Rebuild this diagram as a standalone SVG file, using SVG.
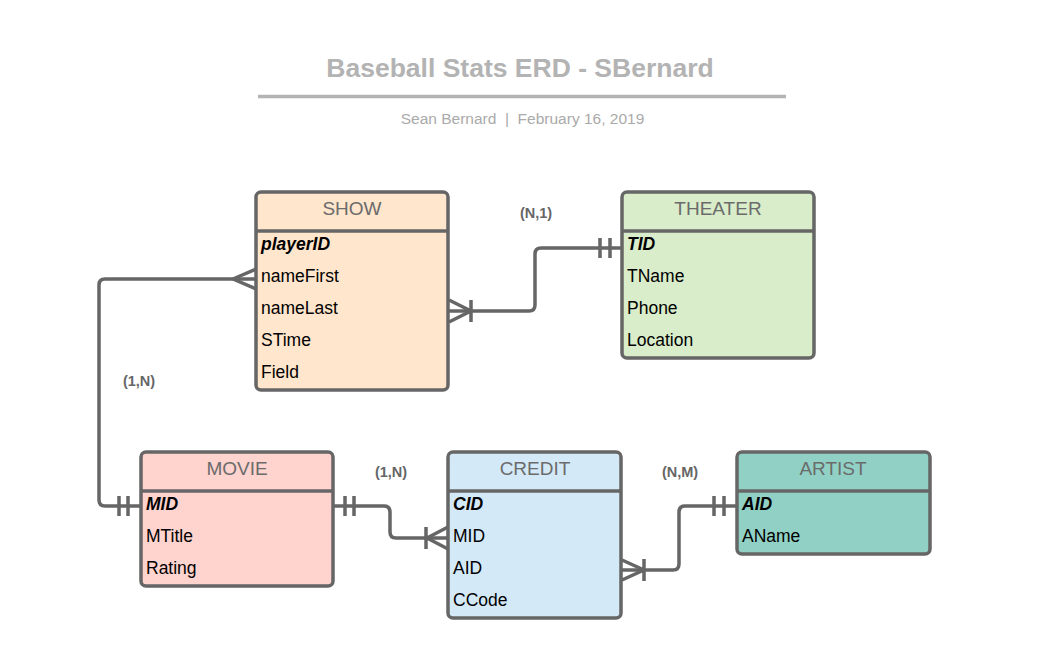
<svg xmlns="http://www.w3.org/2000/svg" width="1040" height="659" viewBox="0 0 1040 659">
<style>
.box{stroke:#666666;stroke-width:3.5}
.div{stroke:#666666;stroke-width:3.5}
.hdr{font-family:"Liberation Sans",Arial,sans-serif;font-size:19px;fill:#6b6b6b;text-anchor:middle}
.row{font-family:"Liberation Sans",Arial,sans-serif;font-size:17.5px;fill:#000000}
.pk{font-weight:bold;font-style:italic}
.lbl{font-family:"Liberation Sans",Arial,sans-serif;font-size:14.5px;font-weight:bold;fill:#666666;text-anchor:middle}
.con{fill:none;stroke:#666666;stroke-width:3.5;stroke-linecap:butt;stroke-linejoin:round}
</style>
<rect width="1040" height="659" fill="#ffffff"/>
<g id="title">
<text x="520" y="77" font-family="Liberation Sans,Arial,sans-serif" font-size="26.5" font-weight="bold" fill="#b3b3b3" text-anchor="middle">Baseball Stats ERD - SBernard</text>
<line x1="258" y1="96.5" x2="786" y2="96.5" stroke="#b3b3b3" stroke-width="3.5"/>
<text x="522.5" y="124" font-family="Liberation Sans,Arial,sans-serif" font-size="15.5" fill="#aaaaaa" text-anchor="middle" xml:space="preserve">Sean Bernard  |  February 16, 2019</text>
</g>
<g id="connectors">
<path class="con" d="M256 279 H105 Q99 279 99 285 V500 Q99 506 105 506 H141"/>
<path class="con" d="M233 279 L256 269 M233 279 L256 289"/>
<path class="con" d="M119 496 V516 M128 496 V516"/>
<path class="con" d="M333 506 H384 Q390 506 390 512 V532 Q390 538 396 538 H448"/>
<path class="con" d="M345 496 V516 M354 496 V516"/>
<path class="con" d="M426 527 V549 M427 538 L448 527 M427 538 L448 549"/>
<path class="con" d="M448 311 H529 Q535 311 535 305 V254 Q535 248 541 248 H622"/>
<path class="con" d="M471 300 V322 M471 311 L449 300 M471 311 L449 322"/>
<path class="con" d="M600 238 V258 M610 238 V258"/>
<path class="con" d="M621 570 H673 Q679 570 679 564 V512 Q679 506 685 506 H737"/>
<path class="con" d="M644 559 V581 M644 570 L622 560 M644 570 L622 580"/>
<path class="con" d="M714 496 V516 M724 496 V516"/>
</g>
<g id="labels">
<text class="lbl" x="536" y="218">(N,1)</text>
<text class="lbl" x="139" y="386">(1,N)</text>
<text class="lbl" x="391" y="477">(1,N)</text>
<text class="lbl" x="680" y="477">(N,M)</text>
</g>
<g id="SHOW">
<rect class="box" x="256" y="192" width="192" height="198" rx="5" fill="#ffe6cc"/>
<line class="div" x1="256" y1="231" x2="448" y2="231"/>
<text class="hdr" x="352" y="215">SHOW</text>
<text class="row pk" x="261" y="250">playerID</text>
<text class="row" x="261" y="282">nameFirst</text>
<text class="row" x="261" y="314">nameLast</text>
<text class="row" x="261" y="346">STime</text>
<text class="row" x="261" y="378">Field</text>
</g>
<g id="THEATER">
<rect class="box" x="622" y="192" width="192" height="166" rx="5" fill="#d9edca"/>
<line class="div" x1="622" y1="231" x2="814" y2="231"/>
<text class="hdr" x="718" y="215">THEATER</text>
<text class="row pk" x="627" y="250">TID</text>
<text class="row" x="627" y="282">TName</text>
<text class="row" x="627" y="314">Phone</text>
<text class="row" x="627" y="346">Location</text>
</g>
<g id="MOVIE">
<rect class="box" x="141" y="452" width="192" height="134" rx="5" fill="#ffd3ce"/>
<line class="div" x1="141" y1="491" x2="333" y2="491"/>
<text class="hdr" x="237" y="475">MOVIE</text>
<text class="row pk" x="146" y="510">MID</text>
<text class="row" x="146" y="542">MTitle</text>
<text class="row" x="146" y="574">Rating</text>
</g>
<g id="CREDIT">
<rect class="box" x="448" y="452" width="173" height="166" rx="5" fill="#d4e9f7"/>
<line class="div" x1="448" y1="491" x2="621" y2="491"/>
<text class="hdr" x="535" y="475">CREDIT</text>
<text class="row pk" x="453" y="510">CID</text>
<text class="row" x="453" y="542">MID</text>
<text class="row" x="453" y="574">AID</text>
<text class="row" x="453" y="606">CCode</text>
</g>
<g id="ARTIST">
<rect class="box" x="737" y="452" width="193" height="102" rx="5" fill="#91d1c5"/>
<line class="div" x1="737" y1="491" x2="930" y2="491"/>
<text class="hdr" x="833" y="475">ARTIST</text>
<text class="row pk" x="742" y="510">AID</text>
<text class="row" x="742" y="542">AName</text>
</g>
</svg>
